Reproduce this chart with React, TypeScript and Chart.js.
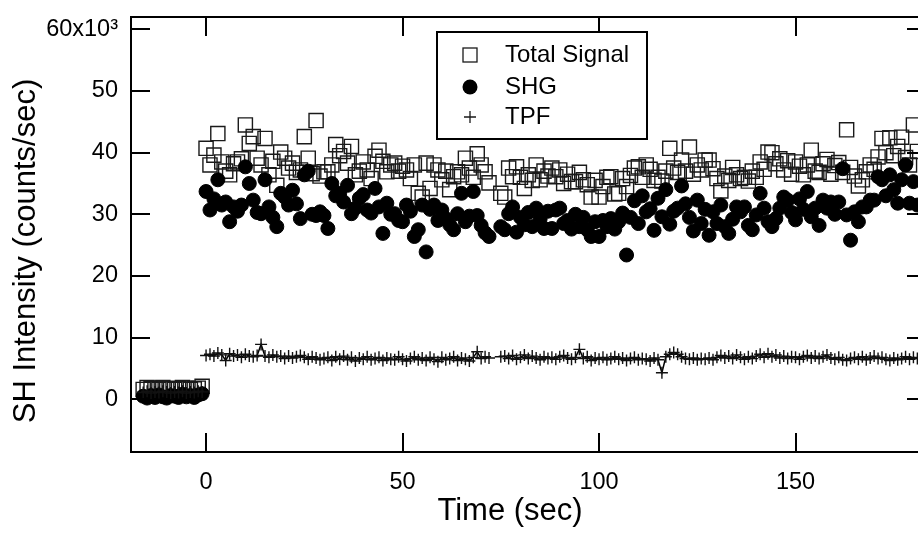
import React, { useEffect, useRef } from "react";
import { Chart, registerables } from "chart.js";

Chart.register(...registerables);

const FONT = "'Liberation Sans', Arial, Helvetica, sans-serif";

// Time grids (sec)
const preTime = [-16, -15, -14, -13, -12, -11, -10, -9, -8, -7, -6, -5, -4, -3, -2, -1];
const postTime = Array.from({ length: 182 }, (_, i) => i);

// Values in thousands of counts/sec, before t = 0
const preTotal = [1.6, 1.9, 1.7, 1.8, 1.6, 1.9, 1.7, 1.8, 1.6, 1.7, 1.9, 1.8, 1.6, 1.7, 1.8, 2.1];
const preSHG = [0.5, 0.2, 0.6, 0.3, 0.7, 0.4, 0.2, 0.6, 0.5, 0.3, 0.8, 0.4, 0.6, 0.3, 0.7, 0.9];
const preTPF = [1.1, 1.3, 1.0, 1.2, 1.1, 1.3, 1.2, 1.0, 1.2, 1.1, 1.3, 1.0, 1.2, 1.1, 1.3, 1.2];

// Values after t = 0 (t = 0 .. 181 s)
const totalSignal = [
  40.7, 38.0, 39.6, 43.1, 38.5, 37.0, 36.4, 38.2, 38.5, 39.0,
  44.5, 41.5, 42.6, 39.1, 38.0, 42.3, 36.4, 38.6, 34.7, 40.1,
  39.1, 37.5, 38.3, 36.8, 37.2, 42.6, 39.1, 36.6, 45.2, 36.2,
  36.9, 36.9, 38.0, 41.3, 39.5, 40.2, 38.3, 41.0, 36.4, 37.0,
  38.5, 37.2, 35.8, 39.4, 40.4, 38.6, 36.9, 38.0, 38.3, 37.0,
  37.8, 37.2, 35.8, 38.0, 33.4, 32.8, 38.3, 34.2, 38.0, 37.2,
  35.6, 37.0, 34.0, 36.1, 36.9, 36.4, 39.1, 37.5, 36.0, 39.8,
  38.0, 36.9, 35.1, null, null, 33.4, 32.8, 37.5, 36.1, 37.7,
  36.0, 34.2, 36.4, 35.5, 38.0, 35.6, 37.0, 36.2, 37.5, 36.1,
  37.2, 35.0, 36.5, 35.3, 35.3, 36.8, 35.6, 34.8, 32.8, 35.5,
  32.8, 34.5, 36.0, 36.1, 33.3, 33.4, 35.8, 34.5, 36.3, 37.5,
  37.7, 36.0, 38.0, 37.3, 35.5, 36.0, 35.4, 37.0, 40.7, 37.5,
  36.8, 38.8, 37.0, 40.9, 36.5, 38.0, 37.2, 38.8, 38.8, 37.4,
  35.8, 33.8, 36.2, 35.5, 37.6, 36.4, 35.8, 36.0, 35.4, 37.0,
  36.0, 38.5, 37.3, 40.1, 40.0, 38.2, 39.0, 37.2, 38.7, 36.5,
  38.5, 37.8, 36.4, 38.0, 40.4, 37.0, 36.8, 38.2, 38.9, 36.5,
  37.9, 38.4, 36.8, 43.7, 37.6, 36.2, 34.6, 35.6, 36.9, 38.0,
  37.3, 39.3, 42.3, 40.0, 42.4, 39.5, 41.0, 42.5, 39.2, 38.0,
  44.5, 40.2,
];

const shg = [
  33.7, 30.7, 32.5, 35.6, 31.5, 32.0, 28.8, 31.2, 30.5, 31.5,
  37.7, 35.0, 32.3, 30.3, 30.1, 35.6, 31.2, 29.5, 28.0, 33.4,
  32.8, 31.5, 33.9, 31.7, 29.3, 36.4, 37.0, 30.0, 29.8, 30.4,
  29.8, 27.7, 35.0, 33.0, 33.4, 32.0, 34.7, 30.1, 31.0, 32.6,
  33.2, 30.7, 30.2, 34.2, 31.2, 26.9, 31.8, 30.0, 30.1, 29.0,
  28.8, 31.5, 30.5, 26.4, 27.5, 31.5, 23.9, 30.8, 31.5, 29.0,
  30.7, 29.3, 28.3, 27.5, 30.1, 33.4, 28.8, 29.7, 33.7, 29.8,
  28.2, 27.0, 26.4, null, null, 28.0, 27.5, 30.1, 31.2, 27.1,
  29.5, 28.3, 30.3, 28.0, 31.0, 29.2, 27.7, 30.5, 27.7, 30.7,
  31.0, 28.5, 29.0, 27.6, 30.0, 28.0, 29.5, 27.5, 26.4, 28.8,
  26.4, 29.0, 28.0, 29.3, 27.6, 28.8, 30.2, 23.4, 29.5, 32.2,
  28.5, 33.0, 30.4, 30.9, 27.4, 32.6, 29.6, 34.0, 28.4, 30.5,
  31.0, 34.6, 31.7, 29.5, 27.3, 32.3, 28.5, 30.8, 26.6, 30.4,
  28.5, 31.5, 28.0, 26.9, 29.2, 31.2, 30.4, 31.2, 28.2, 27.5,
  29.9, 33.4, 31.0, 28.8, 28.0, 29.3, 31.0, 32.8, 32.3, 30.3,
  29.1, 32.5, 30.8, 33.7, 29.6, 31.0, 28.2, 32.3, 31.0, 32.0,
  30.0, 32.0, 37.4, 29.9, 25.8, 30.4, 28.8, 31.2, 31.2, 32.3,
  32.3, 36.1, 35.6, 33.0, 36.4, 34.0, 31.8, 35.6, 38.0, 31.8,
  35.3, 31.5,
];

const tpf = [
  7.1, 7.3, 7.0, 7.5, 7.2, 6.3, 7.4, 7.0, 7.2, 6.8,
  7.3, 7.0, 6.9, 7.1, 8.9, 7.0, 6.8, 7.2, 6.9, 7.0,
  6.6, 7.0, 6.7, 6.9, 7.1, 6.8, 6.5, 6.9, 6.7, 6.4,
  6.6, 6.8, 6.3, 6.9, 6.5, 7.0, 6.4, 6.8, 6.2, 6.7,
  6.5, 6.9, 6.4, 6.6, 6.8, 6.3, 6.7, 6.5, 6.4, 6.9,
  6.5, 6.2, 6.6, 6.9, 6.4, 6.7, 6.3, 6.8, 6.5, 6.1,
  6.8, 6.4, 6.6, 6.9, 6.3, 6.7, 6.5, 6.2, 6.8, 7.7,
  6.6, 6.9, 6.7, null, null, 6.9, 7.0, 6.6, 7.1, 6.5,
  6.8, 7.2, 6.6, 7.0, 6.7, 6.4, 6.9, 6.6, 6.8, 6.5,
  6.9, 7.1, 6.7, 6.5, 6.8, 8.1, 6.6, 6.9, 6.3, 6.7,
  6.5, 6.8, 6.4, 6.6, 6.9, 6.5, 6.7, 6.3, 6.6, 6.8,
  6.4, 6.6, 6.5, 6.2, 6.7, 6.4, 4.3, 6.9, 7.3, 7.6,
  7.3, 6.9, 6.6, 6.5, 6.7, 6.4, 6.6, 6.5, 6.7, 6.4,
  6.8, 7.1, 6.7, 7.0, 6.6, 7.2, 6.8, 6.5, 6.9, 6.6,
  7.0, 7.3, 6.8, 7.4, 6.9, 7.2, 6.7, 7.0, 6.6, 6.9,
  6.8, 6.5, 6.9, 7.1, 6.7, 7.0, 6.6, 6.9, 7.2, 6.7,
  6.5, 6.8, 6.4, 6.3, 6.6, 6.8, 6.5, 6.9, 6.4, 6.7,
  7.0, 6.6, 6.8, 6.5, 6.3, 6.7, 6.4, 6.6, 6.9, 6.5,
  6.8, 6.6,
];

const xTickValues = [0, 50, 100, 150];
const yTickValues = [0, 10, 20, 30, 40, 50, 60];
const seriesLabels = ["Total Signal", "SHG", "TPF"];
const xTitle = "Time (sec)";
const yTitle = "SH Intensity (counts/sec)";

function build(pre: number[], post: (number | null)[]) {
  const pts: { x: number; y: number | null }[] = pre.map((y, i) => ({ x: preTime[i], y }));
  pts.push({ x: -0.5, y: null });
  post.forEach((y, i) => pts.push({ x: postTime[i], y }));
  return pts;
}

function zeroPad(s: any) {
  s.paddingTop = 0;
  s.paddingBottom = 0;
  s.paddingLeft = 0;
  s.paddingRight = 0;
}

const framePlugin = {
  id: "igorFrame",
  afterDraw(chart: any) {
    const { ctx, chartArea } = chart;
    const { left, right, top, bottom } = chartArea;
    const xs = chart.scales.x;
    const ys = chart.scales.y;
    const TL = 19;
    ctx.save();
    ctx.strokeStyle = "#000";
    ctx.lineWidth = 2;
    ctx.beginPath();
    ctx.rect(left, top, right - left, bottom - top);
    ctx.stroke();
    ctx.beginPath();
    xs.ticks.forEach((t: any) => {
      const p = Math.round(xs.getPixelForValue(t.value));
      ctx.moveTo(p, bottom);
      ctx.lineTo(p, bottom - TL);
      ctx.moveTo(p, top);
      ctx.lineTo(p, top + TL);
    });
    ys.ticks.forEach((t: any) => {
      const p = Math.round(ys.getPixelForValue(t.value));
      ctx.moveTo(left, p);
      ctx.lineTo(left + TL, p);
      ctx.moveTo(right, p);
      ctx.lineTo(right - TL, p);
    });
    ctx.stroke();

    // axis titles
    ctx.fillStyle = "#000";
    ctx.font = `31px ${FONT}`;
    ctx.textAlign = "center";
    ctx.textBaseline = "alphabetic";
    ctx.fillText(xTitle, 510, 520);
    ctx.save();
    ctx.translate(35, 251);
    ctx.rotate(-Math.PI / 2);
    ctx.fillText(yTitle, 0, 0);
    ctx.restore();

    // legend box
    const bx = 437, by = 32, bw = 210, bh = 107;
    ctx.fillStyle = "#fff";
    ctx.fillRect(bx, by, bw, bh);
    ctx.lineWidth = 2;
    ctx.strokeStyle = "#000";
    ctx.strokeRect(bx, by, bw, bh);
    const mx = 470;
    const rows = [55, 87, 117];
    const ds = chart.data.datasets;
    ctx.lineWidth = 1.3;
    ctx.strokeStyle = "#1a1a1a";
    ctx.strokeRect(mx - 7, rows[0] - 7, 14, 14);
    ctx.fillStyle = "#000";
    ctx.beginPath();
    ctx.arc(mx, rows[1], 7.5, 0, Math.PI * 2);
    ctx.fill();
    ctx.beginPath();
    ctx.moveTo(mx - 6, rows[2]);
    ctx.lineTo(mx + 6, rows[2]);
    ctx.moveTo(mx, rows[2] - 6);
    ctx.lineTo(mx, rows[2] + 6);
    ctx.stroke();
    ctx.fillStyle = "#000";
    ctx.font = `24px ${FONT}`;
    ctx.textBaseline = "alphabetic";
    ctx.textAlign = "left";
    ds.forEach((d: any, i: number) => {
      ctx.fillText(d.label, 505, rows[i] + 7);
    });
    ctx.restore();
  },
};

export default function App() {
  const ref = useRef<HTMLCanvasElement | null>(null);
  useEffect(() => {
    document.body.style.overflow = "hidden";
    const canvas = ref.current!;
    const chart = new Chart(canvas, {
      type: "scatter",
      data: {
        datasets: [
          {
            label: seriesLabels[0],
            data: build(preTotal, totalSignal),
            pointStyle: "rect",
            pointRadius: 10,
            borderColor: "#1a1a1a",
            borderWidth: 1.4,
            backgroundColor: "rgba(0,0,0,0)",
            order: 3,
          },
          {
            label: seriesLabels[1],
            data: build(preSHG, shg),
            pointStyle: "circle",
            pointRadius: 7,
            borderColor: "#000",
            borderWidth: 1,
            backgroundColor: "#000",
            order: 2,
          },
          {
            label: seriesLabels[2],
            data: build(preTPF, tpf),
            showLine: true,
            spanGaps: false,
            pointStyle: "cross",
            pointRadius: 6,
            borderColor: "#000",
            borderWidth: 1.5,
            pointBorderColor: "#111",
            pointBorderWidth: 1.4,
            backgroundColor: "#000",
            order: 1,
          } as any,
        ],
      },
      options: {
        animation: false,
        responsive: false,
        devicePixelRatio: 1,
        layout: { autoPadding: false, padding: { top: 17, right: 4, left: 0, bottom: 0 } },
        plugins: { legend: { display: false }, tooltip: { enabled: false } },
        scales: {
          x: {
            type: "linear",
            min: -19.1,
            max: 183.2,
            afterFit: (s: any) => {
              s.height = 81;
              zeroPad(s);
            },
            afterBuildTicks: (s: any) => {
              s.ticks = xTickValues.map((v) => ({ value: v }));
            },
            grid: { display: false, drawTicks: false },
            border: { display: false },
            ticks: {
              font: { family: FONT, size: 23.5 },
              color: "#000",
              padding: 16,
              maxRotation: 0,
              autoSkip: false,
            },
            title: { display: false },
          },
          y: {
            type: "linear",
            min: -8.55,
            max: 62.0,
            afterFit: (s: any) => {
              s.width = 131;
              zeroPad(s);
            },
            afterBuildTicks: (s: any) => {
              s.ticks = yTickValues.map((v) => ({ value: v }));
            },
            grid: { display: false, drawTicks: false },
            border: { display: false },
            ticks: {
              font: { family: FONT, size: 23.5 },
              color: "#000",
              padding: 13,
              autoSkip: false,
              callback: (v: any) => (v === 60 ? "60x10\u00B3" : String(v)),
            },
            title: { display: false },
          },
        },
      },
      plugins: [framePlugin],
    } as any);
    return () => chart.destroy();
  }, []);
  return (
    <div style={{ position: "fixed", left: 0, top: 0, width: 930, height: 533, background: "#fff" }}>
      <canvas ref={ref} width={930} height={533} />
    </div>
  );
}
